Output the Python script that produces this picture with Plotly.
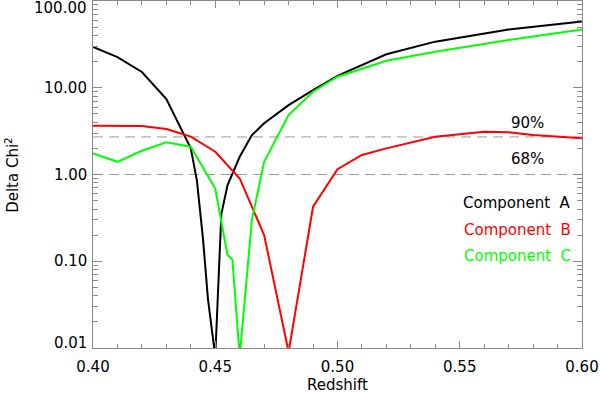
import math
import plotly.graph_objects as go

# Delta chi^2 vs redshift for the three components
comp_a_z = [0.40, 0.41, 0.42, 0.43, 0.44, 0.4425, 0.445, 0.447, 0.45, 0.4525,
            0.455, 0.46, 0.465, 0.47, 0.48, 0.49, 0.50, 0.52, 0.54, 0.57, 0.60]
comp_a_chi = [29.5, 22.6, 15.2, 7.4, 2.0, 0.85, 0.18, 0.037, 0.008, 0.35,
              0.75, 1.6, 2.85, 3.9, 6.3, 9.4, 13.7, 24.3, 34.0, 47.0, 58.0]

comp_b_z = [0.40, 0.41, 0.42, 0.43, 0.44, 0.45, 0.46, 0.47, 0.48, 0.49,
            0.50, 0.51, 0.52, 0.54, 0.56, 0.57, 0.58, 0.60]
comp_b_chi = [3.65, 3.65, 3.62, 3.35, 2.73, 1.83, 0.90, 0.20, 0.009, 0.425,
              1.15, 1.68, 2.0, 2.73, 3.11, 3.06, 2.85, 2.61]

comp_c_z = [0.40, 0.41, 0.42, 0.43, 0.44, 0.45, 0.455, 0.457, 0.46, 0.465,
            0.47, 0.48, 0.49, 0.50, 0.52, 0.54, 0.57, 0.60]
comp_c_chi = [1.75, 1.40, 1.88, 2.35, 2.09, 0.69, 0.118, 0.105, 0.008, 0.30,
              1.40, 4.85, 9.0, 13.4, 20.5, 26.0, 35.5, 47.0]

series_names = ["Component A", "Component B", "Component C"]

# confidence levels
conf_levels = [2.71, 1.0]
conf_labels = ["90%", "68%"]

x_ticks = [0.40, 0.45, 0.50, 0.55, 0.60]
y_ticks = [100, 10, 1, 0.1, 0.01]
y_tick_text = ["100.00", "10.00", "1.00", "0.10", "0.01"]
y_minor = [m * 10 ** d for d in range(-2, 2) for m in range(2, 10)]

FONT = "DejaVu Sans"
GRAY = "#8a8a8a"
COLORS = ["#000000", "#ff0000", "#00ff00"]

fig = go.Figure()

# dashed reference levels
for lvl in conf_levels:
    fig.add_trace(go.Scatter(
        x=[x_ticks[0], x_ticks[-1]], y=[lvl, lvl], mode="lines",
        line=dict(color="#9a9a9a", width=1, dash="10px,6px"),
        showlegend=False, hoverinfo="skip"
    ))

for name, xs, ys, col in zip(series_names,
                             [comp_a_z, comp_b_z, comp_c_z],
                             [comp_a_chi, comp_b_chi, comp_c_chi],
                             COLORS):
    fig.add_trace(go.Scatter(
        x=xs, y=ys, mode="lines", name=name,
        line=dict(color=col, width=2),
        showlegend=False
    ))

annotations = []

# level labels, sitting just above each dashed line
label_pos = [(0.57, 0.598), (0.57, 0.179)]
for txt, (lx, ly) in zip(conf_labels, label_pos):
    annotations.append(dict(
        x=lx, y=ly, xref="x", yref="y", text=txt, showarrow=False,
        xanchor="left", yanchor="middle",
        font=dict(family=FONT, size=15, color="black")
    ))

# text legend in the lower right
legend_y = [-0.334, -0.634, -0.934]
for name, col, ly in zip(series_names, COLORS, legend_y):
    annotations.append(dict(
        x=0.5963, y=ly, xref="x", yref="y",
        text=name.replace(" ", "\u00a0 "), showarrow=False,
        xanchor="right", yanchor="middle",
        font=dict(family=FONT, size=15, color=col)
    ))

# y tick labels; the two end labels are nudged inside the axis extent
for val, txt in zip(y_ticks, y_tick_text):
    shift = 0
    if val == y_ticks[0]:
        shift = -7
    elif val == y_ticks[-1]:
        shift = 5
    annotations.append(dict(
        x=0, y=math.log10(val), xref="paper", yref="y", text=txt,
        showarrow=False, xanchor="right", yanchor="middle",
        xshift=-4, yshift=shift,
        font=dict(family=FONT, size=15, color="black")
    ))

# axis titles
annotations.append(dict(
    x=0.5, y=-0.107, xref="paper", yref="paper", text="Redshift",
    showarrow=False, xanchor="center", yanchor="middle",
    font=dict(family=FONT, size=15, color="black")
))
annotations.append(dict(
    x=-0.167, y=0.5, xref="paper", yref="paper", text="Delta Chi<sup>2</sup>",
    showarrow=False, xanchor="center", yanchor="middle", textangle=-90,
    font=dict(family=FONT, size=15, color="black")
))

fig.update_layout(
    width=600, height=393,
    margin=dict(l=93, r=18, t=1, b=45),
    paper_bgcolor="white", plot_bgcolor="white",
    font=dict(family=FONT, size=15, color="black"),
    annotations=annotations,
    xaxis=dict(
        range=[0.40, 0.60], tickvals=x_ticks, tickformat=".2f",
        ticks="inside", ticklen=7, tickcolor=GRAY, tickwidth=1,
        showline=True, linecolor=GRAY, linewidth=1, mirror="ticks",
        showgrid=False, zeroline=False, ticklabelstandoff=5,
        tickfont=dict(family=FONT, size=15, color="black"),
        minor=dict(dtick=0.01, tick0=0.40, ticks="inside", ticklen=4,
                   tickcolor=GRAY, showgrid=False),
    ),
    yaxis=dict(
        type="log", range=[-2, 2], tickvals=y_ticks, showticklabels=False,
        ticks="inside", ticklen=9, tickcolor=GRAY, tickwidth=1,
        showline=True, linecolor=GRAY, linewidth=1, mirror="ticks",
        showgrid=False, zeroline=False,
        minor=dict(tickvals=y_minor, ticks="inside", ticklen=5,
                   tickcolor=GRAY, showgrid=False),
    ),
)

# the page's default body margin would push the figure 8px in
fig.write_html("out.html", config={"displayModeBar": False},
               post_script="document.body.style.margin='0';")
